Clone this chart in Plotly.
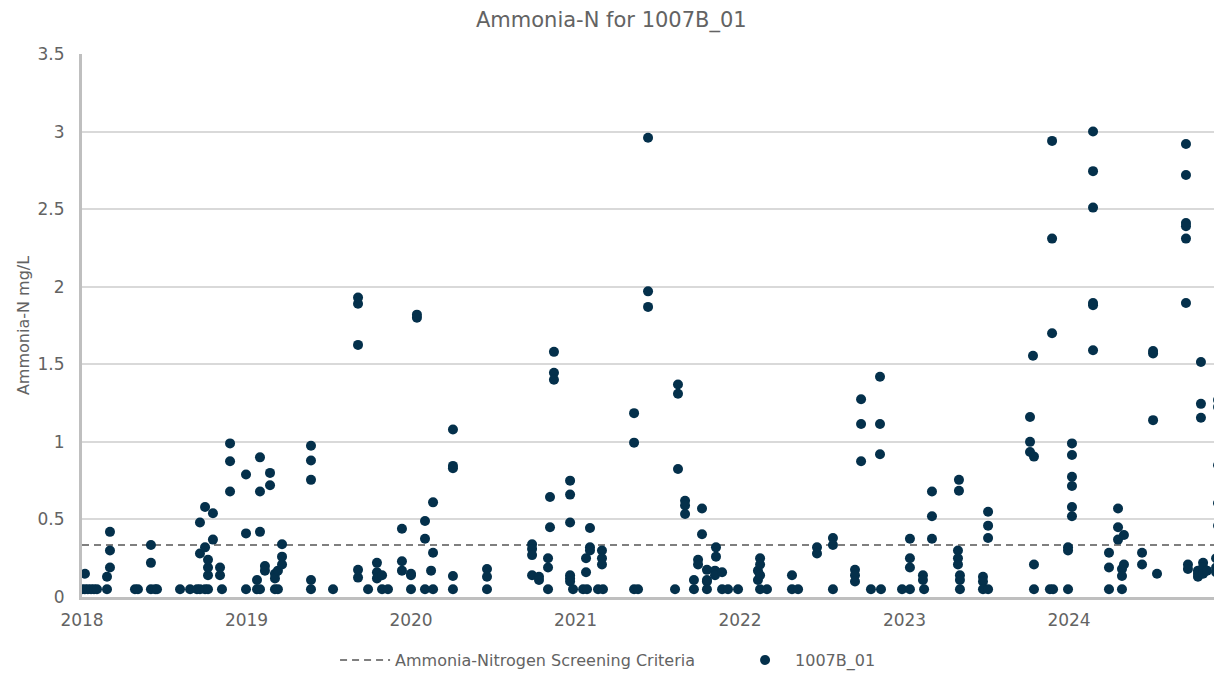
"""Ammonia-N scatter for site 1007B_01 with the screening criteria line."""

import plotly.graph_objects as go

sample_year = [
    2018.000, 2018.018, 2018.018, 2018.036, 2018.055, 2018.073, 2018.091,
    2018.152, 2018.152, 2018.170, 2018.170, 2018.170,
    2018.322, 2018.340, 2018.419, 2018.419, 2018.419, 2018.445, 2018.456,
    2018.596, 2018.657, 2018.699, 2018.717, 2018.717, 2018.717,
    2018.748, 2018.748, 2018.748, 2018.766, 2018.766, 2018.766, 2018.766,
    2018.796, 2018.796, 2018.839, 2018.839, 2018.851,
    2018.900, 2018.900, 2018.900, 2018.997, 2018.997, 2018.997,
    2019.064, 2019.064, 2019.082, 2019.082, 2019.082, 2019.082,
    2019.112, 2019.112, 2019.143, 2019.143, 2019.173, 2019.173, 2019.173,
    2019.191, 2019.191, 2019.216, 2019.216, 2019.216,
    2019.392, 2019.392, 2019.392, 2019.392, 2019.392, 2019.526,
    2019.678, 2019.678, 2019.678, 2019.678, 2019.678, 2019.739,
    2019.793, 2019.793, 2019.793, 2019.824, 2019.824, 2019.860,
    2019.945, 2019.945, 2019.945, 2020.000, 2020.000, 2020.000,
    2020.036, 2020.036, 2020.085, 2020.085, 2020.085, 2020.122,
    2020.134, 2020.134, 2020.134,
    2020.255, 2020.255, 2020.255, 2020.255, 2020.255,
    2020.462, 2020.462, 2020.462,
    2020.736, 2020.736, 2020.736, 2020.736, 2020.778, 2020.778,
    2020.833, 2020.833, 2020.833, 2020.845, 2020.845,
    2020.869, 2020.869, 2020.869,
    2020.967, 2020.967, 2020.967, 2020.967, 2020.967, 2020.967,
    2020.985, 2021.046, 2021.064, 2021.064, 2021.070,
    2021.088, 2021.088, 2021.088, 2021.137, 2021.161, 2021.161, 2021.161,
    2021.167, 2021.356, 2021.356, 2021.356, 2021.380,
    2021.441, 2021.441, 2021.441, 2021.605,
    2021.623, 2021.623, 2021.623, 2021.666, 2021.666, 2021.666,
    2021.720, 2021.720, 2021.745, 2021.745, 2021.769, 2021.769,
    2021.799, 2021.799, 2021.799, 2021.799, 2021.848, 2021.848,
    2021.854, 2021.854, 2021.891, 2021.891, 2021.927, 2021.988,
    2022.109, 2022.109, 2022.122, 2022.122, 2022.122, 2022.122, 2022.164,
    2022.316, 2022.316, 2022.353, 2022.468, 2022.468,
    2022.565, 2022.565, 2022.565,
    2022.699, 2022.699, 2022.699, 2022.736, 2022.736, 2022.736, 2022.796,
    2022.851, 2022.851, 2022.851, 2022.857, 2022.985,
    2023.033, 2023.033, 2023.033, 2023.033, 2023.112, 2023.112, 2023.119,
    2023.167, 2023.167, 2023.167,
    2023.325, 2023.325, 2023.325, 2023.331, 2023.331,
    2023.337, 2023.337, 2023.337,
    2023.477, 2023.477, 2023.477, 2023.508, 2023.508, 2023.508, 2023.508,
    2023.763, 2023.763, 2023.763, 2023.781, 2023.787, 2023.787, 2023.787,
    2023.884, 2023.897, 2023.897, 2023.897, 2023.903,
    2023.994, 2023.994, 2023.994,
    2024.018, 2024.018, 2024.018, 2024.018, 2024.018, 2024.018,
    2024.146, 2024.146, 2024.146, 2024.146, 2024.146, 2024.146,
    2024.243, 2024.243, 2024.243, 2024.298, 2024.298, 2024.298,
    2024.322, 2024.322, 2024.322, 2024.334, 2024.334,
    2024.444, 2024.444, 2024.511, 2024.511, 2024.511, 2024.535,
    2024.711, 2024.711, 2024.711, 2024.711, 2024.711, 2024.711,
    2024.723, 2024.723, 2024.784, 2024.784, 2024.784,
    2024.802, 2024.802, 2024.802, 2024.815, 2024.815, 2024.815, 2024.839,
    2024.894, 2024.894, 2024.894,
    2024.906, 2024.906, 2024.906, 2024.906, 2024.906,
]

ammonia_n = [
    0.05, 0.05, 0.15, 0.05, 0.05, 0.05, 0.05,
    0.05, 0.13, 0.19, 0.30, 0.42,
    0.05, 0.05, 0.05, 0.22, 0.335, 0.05, 0.05,
    0.05, 0.05, 0.05, 0.05, 0.28, 0.48,
    0.05, 0.32, 0.58, 0.14, 0.19, 0.24, 0.05,
    0.37, 0.54, 0.19, 0.14, 0.05,
    0.68, 0.875, 0.99, 0.05, 0.41, 0.79,
    0.05, 0.11, 0.42, 0.68, 0.90, 0.05,
    0.20, 0.17, 0.72, 0.80, 0.05, 0.15, 0.12,
    0.17, 0.05, 0.34, 0.26, 0.21,
    0.05, 0.11, 0.755, 0.88, 0.975, 0.05,
    0.125, 0.175, 1.625, 1.89, 1.93, 0.05,
    0.22, 0.16, 0.12, 0.14, 0.05, 0.05,
    0.44, 0.23, 0.17, 0.14, 0.05, 0.15,
    1.80, 1.82, 0.49, 0.375, 0.05, 0.17,
    0.61, 0.285, 0.05,
    1.08, 0.845, 0.83, 0.135, 0.05,
    0.18, 0.13, 0.05,
    0.34, 0.31, 0.27, 0.14, 0.13, 0.11,
    0.25, 0.19, 0.05, 0.645, 0.45,
    1.58, 1.445, 1.40,
    0.75, 0.66, 0.48, 0.14, 0.12, 0.10,
    0.05, 0.05, 0.25, 0.16, 0.05,
    0.445, 0.32, 0.30, 0.05, 0.30, 0.25, 0.21,
    0.05, 1.185, 0.995, 0.05, 0.05,
    2.96, 1.97, 1.87, 0.05,
    1.37, 1.31, 0.825, 0.62, 0.59, 0.535,
    0.11, 0.05, 0.24, 0.21, 0.57, 0.405,
    0.175, 0.11, 0.10, 0.05, 0.17, 0.14,
    0.32, 0.26, 0.16, 0.05, 0.05, 0.05,
    0.17, 0.11, 0.25, 0.21, 0.14, 0.05, 0.05,
    0.14, 0.05, 0.05, 0.32, 0.28,
    0.38, 0.335, 0.05,
    0.175, 0.14, 0.10, 1.275, 1.115, 0.875, 0.05,
    1.42, 1.115, 0.92, 0.05, 0.05,
    0.375, 0.25, 0.19, 0.05, 0.14, 0.11, 0.05,
    0.68, 0.52, 0.375,
    0.30, 0.25, 0.21, 0.755, 0.685,
    0.14, 0.11, 0.05,
    0.13, 0.10, 0.05, 0.55, 0.46, 0.38, 0.05,
    1.16, 1.00, 0.935, 1.555, 0.905, 0.21, 0.05,
    0.05, 2.94, 2.31, 1.70, 0.05,
    0.32, 0.30, 0.05,
    0.99, 0.915, 0.775, 0.715, 0.58, 0.52,
    3.00, 2.745, 2.51, 1.895, 1.88, 1.59,
    0.285, 0.19, 0.05, 0.57, 0.45, 0.37,
    0.18, 0.135, 0.05, 0.40, 0.21,
    0.285, 0.21, 1.585, 1.57, 1.14, 0.15,
    2.92, 2.72, 2.41, 2.39, 2.31, 1.895,
    0.21, 0.18, 0.17, 0.15, 0.13,
    1.515, 1.245, 1.155, 0.22, 0.19, 0.15, 0.17,
    0.25, 0.19, 0.16,
    1.27, 1.225, 0.85, 0.605, 0.46,
]

screening_criteria = 0.335
x_start, x_end = 2018.0, 2024.93
year_ticks = [2018, 2019, 2020, 2021, 2022, 2023, 2024]

TEXT = "#636363"
GRID = "#D9D9D9"
AXIS = "#BFBFBF"
NAVY = "#04304B"
FONT = "DejaVu Sans, sans-serif"

fig = go.Figure()
fig.add_trace(go.Scatter(
    x=[x_start, x_end],
    y=[screening_criteria, screening_criteria],
    mode="lines",
    name="Ammonia-Nitrogen Screening Criteria",
    line=dict(color="#7F7F7F", width=2, dash="7px,5px"),
))
fig.add_trace(go.Scatter(
    x=sample_year,
    y=ammonia_n,
    mode="markers",
    name="1007B_01",
    marker=dict(color=NAVY, size=10),
))

# page body adds 8px around the div, so the figure is 1214x666
fig.update_layout(
    width=1214,
    height=666,
    margin=dict(l=74, r=0, t=46, b=77),
    paper_bgcolor="white",
    plot_bgcolor="white",
    font=dict(family=FONT, color=TEXT, size=16),
    title=dict(text="Ammonia-N for 1007B_01", x=0.497, xref="container",
               y=0.993, yanchor="top", font=dict(size=21, color=TEXT)),
    showlegend=True,
    legend=dict(orientation="h", x=0.2694, xanchor="left", xref="container",
                y=0.021, yanchor="middle", yref="container",
                font=dict(size=16, color=TEXT), traceorder="normal",
                itemwidth=50, entrywidth=335),
    xaxis=dict(
        range=[x_start, x_end],
        tickvals=year_ticks,
        ticktext=[str(y) for y in year_ticks],
        showgrid=False,
        zeroline=False,
        showline=True,
        linecolor=AXIS,
        linewidth=3,
        ticks="",
        ticklabelstandoff=6,
        tickfont=dict(size=17, color=TEXT),
    ),
    yaxis=dict(
        range=[0, 3.5],
        dtick=0.5,
        gridcolor=GRID,
        gridwidth=2,
        zeroline=False,
        showline=True,
        linecolor=AXIS,
        linewidth=3,
        ticks="",
        ticklabelstandoff=11,
        tickfont=dict(size=17, color=TEXT),
        automargin=False,
        title=dict(text="Ammonia-N mg/L", font=dict(size=16, color=TEXT),
                   standoff=4),
    ),
)

fig.write_html("out.html")
